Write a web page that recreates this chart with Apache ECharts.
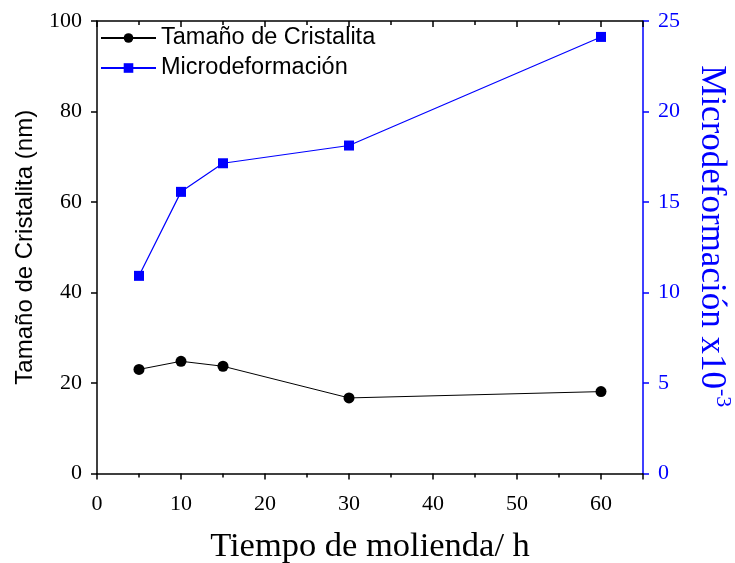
<!DOCTYPE html>
<html><head><meta charset="utf-8">
<script src="https://cdn.jsdelivr.net/npm/echarts@6/dist/echarts.min.js"></script>
<style>html,body{margin:0;padding:0;background:#fff;overflow:hidden}#c{width:735px;height:563px}</style>
</head><body><div id="c"></div>
<script>
const tiempo = [5, 10, 15, 30, 60];
const tamano = [23.0, 24.8, 23.7, 16.7, 18.1];
const microdef = [10.92, 15.56, 17.14, 18.12, 24.12];
const seriesNames = ['Tamaño de Cristalita', 'Microdeformación'];

const serif = 'Liberation Serif';
const sans = 'Liberation Sans';
const chart = echarts.init(document.getElementById('c'));
const blk = {color: '#000', width: 1.5};
chart.setOption({
  animation: false,
  backgroundColor: '#fff',
  grid: {left: 97, right: 92, top: 21, bottom: 89.5, containLabel: false, outerBoundsMode: 'none'},
  legend: {
    orient: 'vertical', left: 95, top: 21, itemWidth: 55, itemHeight: 12, itemGap: 6,
    textStyle: {fontFamily: sans, fontSize: 23.5, color: '#000'},
    data: seriesNames
  },
  xAxis: [{
    type: 'value', min: 0, max: 65, interval: 10, position: 'bottom',
    name: 'Tiempo de molienda/ h', nameLocation: 'middle', nameGap: 56,
    nameTextStyle: {fontFamily: serif, fontSize: 34.5, color: '#000'},
    axisLine: {onZero: false, lineStyle: blk},
    axisTick: {length: 6, lineStyle: blk},
    minorTick: {show: true, splitNumber: 2, length: 4, lineStyle: blk},
    axisLabel: {fontFamily: serif, fontSize: 22, color: '#000', margin: 20,
      formatter: v => (v === 65 ? '' : String(v))},
    splitLine: {show: false}
  }, {
    type: 'value', min: 0, max: 65, interval: 10, position: 'top',
    axisLine: {onZero: false, lineStyle: blk},
    axisTick: {inside: true, length: 6, lineStyle: blk},
    minorTick: {show: true, splitNumber: 2, length: 4, lineStyle: blk},
    axisLabel: {show: false},
    splitLine: {show: false}
  }],
  yAxis: [{
    type: 'value', min: 0, max: 100, interval: 20, position: 'left',
    name: 'Tamaño de Cristalita (nm)', nameLocation: 'middle', nameGap: 60,
    nameTextStyle: {fontFamily: sans, fontSize: 24, color: '#000'},
    axisLine: {show: true, onZero: false, lineStyle: blk},
    axisTick: {show: true, length: 6, lineStyle: blk},
    axisLabel: {fontFamily: serif, fontSize: 22, color: '#000', margin: 15},
    splitLine: {show: false}
  }, {
    type: 'value', min: 0, max: 25, interval: 5, position: 'right',
    name: '{a|Microdeformación x10}{s|-3}', nameLocation: 'middle', nameRotate: -90, nameGap: 51,
    nameTextStyle: {
      rich: {
        a: {fontFamily: serif, fontSize: 35, color: '#0000ff', lineHeight: 40, verticalAlign: 'bottom'},
        s: {fontFamily: serif, fontSize: 22, color: '#0000ff', lineHeight: 40, verticalAlign: 'top', padding: [0, 22, 16, 0]}
      }
    },
    axisLine: {show: true, onZero: false, lineStyle: {color: '#0000ff', width: 1.5}},
    axisTick: {show: true, length: 6, lineStyle: {color: '#0000ff', width: 1.5}},
    axisLabel: {fontFamily: serif, fontSize: 22, color: '#0000ff', margin: 15},
    splitLine: {show: false}
  }],
  series: [{
    name: seriesNames[0], type: 'line', xAxisIndex: 0, yAxisIndex: 0,
    data: tiempo.map((t, i) => [t, tamano[i]]),
    symbol: 'circle', symbolSize: 11,
    itemStyle: {color: '#000'}, lineStyle: {color: '#000', width: 1}
  }, {
    name: seriesNames[1], type: 'line', xAxisIndex: 0, yAxisIndex: 1,
    data: tiempo.map((t, i) => [t, microdef[i]]),
    symbol: 'rect', symbolSize: 10,
    itemStyle: {color: '#0000ff'}, lineStyle: {color: '#0000ff', width: 1.2}
  }]
});
</script></body></html>
